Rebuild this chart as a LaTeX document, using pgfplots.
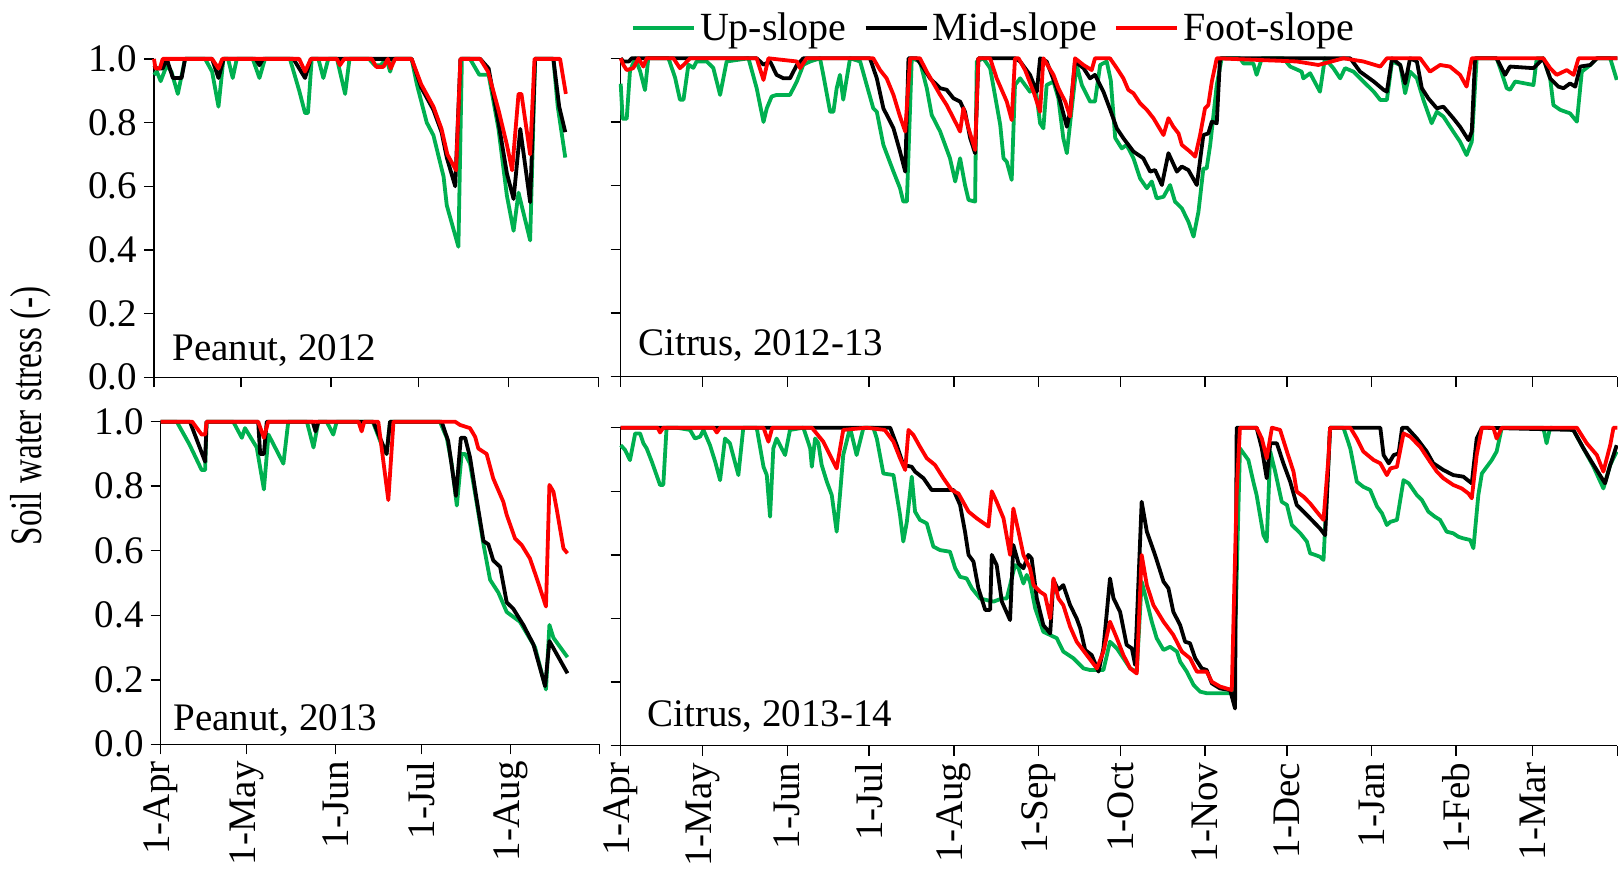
\documentclass[border=0pt]{standalone}
\usepackage{pgfplots}
\pgfplotsset{compat=1.18}
\usepackage{fontspec}
\setmainfont{Liberation Serif}
\definecolor{cgreen}{RGB}{0,176,80}
\definecolor{cred}{RGB}{255,0,0}
\newcommand{\fs}{\fontsize{19.5}{23}\selectfont}
\newcommand{\fl}{\fontsize{20}{24}\selectfont}
\pgfplotsset{
  panel/.style={
    scale only axis,
    axis lines*=left,
    anchor=south west,
    ymin=0, ymax=1,
    ytick={0,0.2,0.4,0.6,0.8,1},
    tick align=outside,
    major tick length=5pt,
    axis line style={line width=0.75pt},
    tick style={line width=0.75pt, black},
    tick label style={font=\fs},
    yticklabel style={/pgf/number format/.cd, fixed, fixed zerofill, precision=1, assume math mode=true},
    xticklabel style={rotate=90, anchor=east},
    clip=false,
    no markers,
    every axis plot/.append style={line width=1.9pt, line join=round},
  },
  peanut/.style={xmin=0, xmax=153, xtick={0,30,61,91,122,153}},
  citrus/.style={xmin=0, xmax=365, xtick={0,30,61,91,122,153,183,214,244,275,306,334,365}},
}
\begin{document}
\begin{tikzpicture}
\useasboundingbox (0,0) rectangle (809pt,436pt);
\node[rotate=90, xscale=0.85, yscale=1.15, font=\fs] at (15.5pt,228pt) {Soil water stress (-)};
% ---------------- Peanut 2012
\begin{axis}[panel, peanut, at={(77pt,247.35pt)}, width=222.2pt, height=159.2pt, xticklabels={}]
\addplot[cgreen] table {
0 0.95
1 0.96
2.3 0.93
4.4 0.98
6 0.96
8.2 0.89
10.7 1
17.6 1
20 0.96
22.2 0.85
23.9 1
25.5 1
27.1 0.94
28.5 1
34 1
36.3 0.94
38.2 1
46.8 1
50 0.90
52 0.83
53 0.83
54.3 1
56.6 1
58.3 0.94
60 1
63 1
65.8 0.89
67.3 1
74 1
76 0.98
78 0.98
80 1
81.3 0.96
82.5 1
88.7 1
90.5 0.92
93.9 0.80
96.2 0.76
99.7 0.63
100.8 0.54
104.8 0.41
106 1
108.8 1
112 0.95
115.2 0.95
118.6 0.78
121.5 0.57
123.8 0.46
125.5 0.58
129.5 0.43
131.2 1
137.5 1
139 0.85
141.6 0.69
};
\addplot[black] table {
0 0.98
1 0.97
3 0.97
4.4 1
6.5 0.94
9.5 0.94
10.7 1
20 1
22.2 0.94
24 1
35 1
36.3 0.98
37.5 1
48 1
52 0.94
54 1
88.7 1
92 0.91
96.2 0.84
99 0.77
100.8 0.69
103.7 0.60
105.5 1
112.3 1
115.2 0.97
118.6 0.80
121.5 0.64
123.8 0.56
126.1 0.78
129.5 0.55
131.2 1
137.5 1
139.5 0.85
141.6 0.77
};
\addplot[cred] table {
0 1
0.5 0.97
2 0.97
3 1
20 1
22.2 0.97
23.5 1
50 1
52 0.96
54 1
63 1
64 0.98
65.5 1
75 1
76.5 0.975
79 0.975
80.5 1
81.5 0.97
83 1
88.7 1
92 0.92
96.2 0.85
99 0.78
101 0.70
104 0.65
105.5 1
112.3 1
115 0.96
118.6 0.84
121.5 0.73
123.3 0.65
125.5 0.89
126.5 0.89
129.5 0.70
131 1
139.8 1
141.8 0.89
};
\node[anchor=base west, inner sep=0pt, font=\fs] at (axis cs:6.2,0.054) {Peanut, 2012};
\end{axis}
% ---------------- Citrus 2012-13
\begin{axis}[panel, citrus, at={(310.35pt,247.65pt)}, width=498.3pt, height=159.2pt, xticklabels={}, yticklabels={},
  legend columns=3,
  legend style={draw=none, fill=none, font=\fl, at={(0.010,1.095)}, anchor=west, inner sep=0pt,
    /tikz/every even column/.append style={column sep=6.5pt}},
  legend image code/.code={\draw[#1] (0pt,0pt) -- (30.6pt,0pt);}]
\addplot[cgreen] table {
0 0.92
0.7 0.81
2.2 0.81
3.4 0.96
5.3 1
7.1 0.96
8.9 0.90
10.1 1
17.5 1
19.9 0.94
21.7 0.87
23 0.87
24.8 0.98
26.6 0.97
27.8 0.99
31.5 0.99
33.9 0.97
36.4 0.885
38.8 0.99
46.8 1
49.8 0.906
52.3 0.80
53.5 0.843
55.3 0.88
57.1 0.885
62 0.885
64.5 0.927
66.9 0.98
69.4 0.99
73 1
74.2 0.948
76.7 0.832
77.9 0.832
79.1 0.906
80.3 0.948
81.5 0.87
84 1
87.7 0.99
90.1 0.916
92.5 0.843
93.8 0.832
96.2 0.728
99.9 0.644
102.3 0.592
103.5 0.55
104.8 0.55
106.6 1
109.6 0.99
112.1 0.906
113.9 0.822
117 0.77
120.6 0.686
122.5 0.613
124.3 0.686
126.1 0.602
127.4 0.555
129.8 0.55
130.4 0.99
132.8 1
135.3 0.969
139 0.791
140.2 0.686
141.4 0.675
143.2 0.618
144.4 0.916
146.3 0.937
148.1 0.916
149.9 0.895
151.8 0.916
153.6 0.796
154.8 0.78
156 0.916
158.5 0.927
160.3 0.874
162.1 0.749
163.4 0.702
165.2 0.843
167 0.979
168.9 0.916
171.9 0.864
173.7 0.864
175.6 0.979
178 0.99
179.5 0.93
181.1 0.75
183.5 0.717
185.3 0.728
187.8 0.686
190.2 0.623
192.7 0.592
194.5 0.613
196.3 0.56
198.8 0.565
201.2 0.602
203 0.55
205.5 0.529
207.9 0.487
209.8 0.44
211.6 0.518
213.4 0.654
214.6 0.654
215.9 0.728
218.3 0.916
220.1 1
226.8 1
228.1 0.984
231.7 0.984
232.9 0.948
234.8 1
242.7 1
245.2 0.974
249.4 0.958
250 0.937
252.5 0.953
256.1 0.895
257.9 1
261 0.969
263.5 0.937
265.3 0.969
268.4 0.958
272 0.927
275.8 0.895
278.2 0.869
280.6 0.869
282.5 0.99
285.5 0.979
287.3 0.89
289.1 0.958
291.6 0.937
294 0.869
297 0.796
298.9 0.832
301.3 0.817
304.9 0.77
307.4 0.738
309.8 0.696
311.7 0.738
313.5 1
320.8 1
322.1 0.969
324.5 0.906
325.7 0.901
327.6 0.927
334.3 0.916
335.5 1
337.9 1
340.4 0.937
341.6 0.853
344.1 0.838
347.7 0.827
350.2 0.801
352 0.958
355.1 0.979
357.5 1
362.4 1
364.8 0.932
};
\addlegendentry{Up-slope}
\addplot[black] table {
0 1
1 0.99
3 0.99
4 1
49.8 1
52.3 0.98
54.7 0.99
57.1 0.948
59.6 0.937
62 0.937
64.5 0.979
66.9 1
91.3 1
93.8 0.937
96.2 0.843
99.9 0.78
102.3 0.707
104.2 0.644
105.4 1
108.4 1
110.9 0.969
113.3 0.937
117 0.906
119.4 0.901
121.9 0.874
124.3 0.864
126.1 0.832
128 0.749
129.8 0.702
131 1
144.4 1
146.3 0.99
149.9 0.948
152.4 0.895
153.6 1
156 0.99
159.7 0.906
163.4 0.785
164.6 0.832
166.4 0.99
169.5 0.969
171.9 0.937
173.7 0.948
176.8 0.895
179.2 0.84
181.7 0.78
184.1 0.749
187.8 0.707
191.4 0.686
193.9 0.644
195.7 0.649
198.2 0.602
200.6 0.702
203.7 0.644
205.5 0.66
207.9 0.649
211 0.602
213.4 0.759
215.2 0.764
216.5 0.801
218.3 0.796
219.5 1
267.2 1
270.8 0.958
275.8 0.927
279.4 0.901
280.6 0.895
282.5 1
285.5 0.979
287.3 0.921
289.1 1
291.6 0.99
293.4 0.906
295.8 0.874
298.9 0.843
301.3 0.848
304.9 0.812
307.4 0.785
310.5 0.743
311.7 0.77
312.9 1
320.8 1
323.9 0.948
325.7 0.974
334.3 0.969
335.5 0.979
337.9 1
340.4 0.937
343.4 0.911
345.3 0.906
347.7 0.921
349.6 0.911
351.4 0.974
355.1 0.979
357.5 1
365 1
};
\addlegendentry{Mid-slope}
\addplot[cred] table {
0 1
1 0.979
2.2 0.963
4.6 0.969
6.5 1
8.3 0.974
9.5 1
19.3 1
21.7 0.969
23 0.979
25.4 1
49.8 1
52.3 0.932
54.1 1
64.5 0.99
65.7 0.969
68.1 1
92.5 1
95 0.963
97.4 0.937
99.9 0.885
102.3 0.817
104.2 0.77
106 1
109.6 1
112.1 0.958
117 0.885
119.4 0.853
123.1 0.791
124.3 0.77
125.5 0.843
127.4 0.78
129.8 0.712
131 1
135.3 1
137.7 0.937
141.4 0.864
143.2 0.806
144.4 1
145.7 1
148.1 0.963
151.2 0.895
153.6 0.832
154.8 1
158.5 0.948
160.3 0.906
162.8 0.864
164.6 0.817
166.4 1
169.5 0.979
172.5 0.963
173.7 1
179.2 1
181.7 0.969
184.1 0.937
185.9 0.901
187.8 0.89
190.2 0.859
192.7 0.838
195.1 0.812
198.8 0.759
200.6 0.812
202.4 0.785
204.3 0.764
205.5 0.728
208.5 0.707
210.4 0.691
212.2 0.759
214 0.843
215.2 0.853
216.5 0.927
218.3 1
247.6 0.99
255.5 0.979
264.7 1
272 0.99
278.2 0.974
280.6 1
292.8 1
296.4 0.958
300.1 0.979
303.7 0.974
307.4 0.948
309.8 0.911
311.7 1
337.9 1
340.4 0.969
342.8 0.948
346.5 0.963
349 0.948
350.8 1
365 1
};
\addlegendentry{Foot-slope}
\node[anchor=base west, inner sep=0pt, font=\fs] at (axis cs:6.3,0.068) {Citrus, 2012-13};
\end{axis}
% ---------------- Peanut 2013
\begin{axis}[panel, peanut, at={(80.35pt,63.85pt)}, width=219.3pt, height=161.3pt,
  xticklabels={1-Apr,1-May,1-Jun,1-Jul,1-Aug,{}}]
\addplot[cgreen] table {
0 1
5.6 1
10 0.93
14.3 0.85
15.5 0.85
16 1
25.3 1
28.3 0.95
29.4 0.98
33.5 0.92
36 0.79
37.6 0.96
42.8 0.87
44.5 1
51 1
53.3 0.92
55 1
57.9 1
60.2 0.96
61.4 1
74 1
77 0.93
78.8 0.90
80 1
97.4 1
99.8 0.95
101.5 0.87
103.3 0.74
105 0.90
106.2 0.90
107.9 0.87
110.2 0.75
112.6 0.62
114.9 0.51
117.8 0.47
120.7 0.41
125.3 0.38
130.6 0.30
134.4 0.17
135.6 0.37
137 0.33
141.9 0.27
};
\addplot[black] table {
0 1
10.2 1
15.5 0.876
16 1
34 1
34.7 0.90
36 0.90
37 1
53 1
54 0.97
55 1
74.2 1
78.8 0.90
80 1
98 1
100.3 0.94
103 0.77
104.7 0.95
106.2 0.95
107.9 0.89
110.2 0.76
112.6 0.63
114.3 0.62
116 0.57
118.4 0.55
120.7 0.44
123 0.42
126.5 0.37
130 0.31
134.1 0.18
135.6 0.32
141.9 0.22
};
\addplot[cred] table {
0 1
11 1
14.3 0.96
15.5 0.96
16 1
34 1
36 0.95
37.5 1
69 1
70.1 0.97
71 1
75.9 1
79.4 0.757
81.2 1
102.7 1
104.4 0.99
107.9 0.98
109.7 0.953
110.8 0.917
113.7 0.90
116 0.824
119.5 0.752
120.7 0.711
123.6 0.638
125.9 0.618
128.8 0.576
131.2 0.514
134.4 0.427
135.6 0.804
137 0.783
138.1 0.731
140.5 0.607
141.9 0.592
};
\node[anchor=base west, inner sep=0pt, font=\fs] at (axis cs:4.3,0.044) {Peanut, 2013};
\end{axis}
% ---------------- Citrus 2013-14
\begin{axis}[panel, citrus, at={(310.35pt,63.15pt)}, width=498.3pt, height=159pt, yticklabels={},
  xticklabels={1-Apr,1-May,1-Jun,1-Jul,1-Aug,1-Sep,1-Oct,1-Nov,1-Dec,1-Jan,1-Feb,1-Mar,{}}]
\addplot[cgreen] table {
0 0.945
1.6 0.93
3.4 0.898
5.3 0.982
7.1 0.982
8.3 0.951
9.5 0.935
11.4 0.893
14.4 0.82
15.6 0.82
16.8 1
20.5 1
25.4 0.993
27.2 0.966
29.1 0.972
30.3 0.993
32.7 0.945
34.6 0.893
36.4 0.835
38.2 0.966
40 0.951
43.1 0.851
44.9 1
49.8 1
52.3 0.877
53.5 0.851
54.7 0.72
55.9 0.935
57.1 0.966
60.2 0.914
62 0.993
66.9 1
69.4 0.935
70 0.877
71.2 0.966
72.4 0.951
73.6 0.883
75.5 0.83
77.3 0.788
79.1 0.673
80.3 0.788
81.5 0.914
84 1
86.4 0.914
88.9 1
92.5 1
93.8 0.966
96.2 0.856
99.9 0.851
102.3 0.725
103.5 0.642
104.8 0.704
106.6 0.846
107.8 0.736
109.6 0.71
112.1 0.699
114.5 0.626
117 0.615
120.6 0.61
122.5 0.558
124.3 0.531
126.7 0.526
128.6 0.495
131.6 0.463
136.5 0.453
139.6 0.463
141.4 0.463
144.4 0.568
145.7 0.558
147.5 0.51
148.7 0.537
149.9 0.516
151.8 0.432
154.8 0.358
157.3 0.348
159.7 0.338
162.1 0.296
165.8 0.275
169.5 0.243
171.9 0.238
176.8 0.238
179.2 0.327
181.7 0.306
184.1 0.275
186.6 0.243
189 0.233
190.8 0.516
192.7 0.453
194.5 0.39
196.3 0.338
198.8 0.301
201.2 0.311
203.7 0.296
204.9 0.264
207.3 0.233
209.8 0.191
212.2 0.17
214.6 0.165
224.5 0.165
226.8 0.935
229.9 0.898
231.7 0.83
232.9 0.788
235.4 0.662
236.6 0.642
237.9 0.925
239.7 0.862
242.1 0.767
244 0.757
245.8 0.694
248.9 0.668
251.3 0.642
252.5 0.605
254.3 0.6
256.1 0.594
257.4 0.584
259.8 1
264.7 1
267.2 0.935
269.6 0.83
272 0.814
274.5 0.804
277 0.752
278.8 0.731
280.6 0.694
281.9 0.704
284.3 0.71
286.7 0.835
288.6 0.825
291.6 0.788
293.4 0.773
295.8 0.736
298.2 0.72
300.1 0.71
302.5 0.673
304.9 0.668
306.8 0.657
308.6 0.652
311.1 0.647
312.3 0.621
314.1 0.788
315.4 0.856
317.2 0.877
319 0.898
320.8 0.925
322.7 1
337.9 1
339.1 0.951
340.4 1
348.9 0.993
352.6 0.935
356.3 0.877
359.9 0.809
362.4 0.883
364.8 0.925
};
\addplot[black] table {
0 1
98.7 1
101.1 0.945
103.5 0.883
106.6 0.877
107.8 0.862
110.9 0.841
113.9 0.804
121.9 0.804
124.3 0.757
126.1 0.673
127.4 0.6
129.2 0.579
131 0.495
133.5 0.427
135.3 0.427
135.9 0.6
137.7 0.568
139.6 0.453
142.6 0.395
143.8 0.631
145.7 0.573
147.5 0.558
149.3 0.6
150.5 0.589
152.4 0.463
154.8 0.379
157.3 0.353
158.5 0.521
160.3 0.49
162.1 0.505
164.6 0.442
167 0.4
168.3 0.369
170.1 0.301
172.5 0.285
175 0.233
176.8 0.306
179.2 0.526
180.5 0.463
182.9 0.421
185.3 0.317
187.2 0.306
188.4 0.254
190.8 0.767
192.7 0.673
195.7 0.6
198.8 0.516
200.6 0.495
202.4 0.421
204.9 0.379
206.7 0.327
208.5 0.322
210.4 0.275
212.8 0.243
214.6 0.238
216.5 0.196
219.5 0.18
223.2 0.175
225 0.117
225.6 1
232.9 1
234.8 0.935
236.6 0.841
237.9 0.951
240.3 0.951
242.7 0.888
245.2 0.83
247.6 0.757
250.1 0.736
252.5 0.715
256.1 0.683
258 0.662
259.8 1
278.2 1
279.4 0.914
281.3 0.888
283.1 0.914
284.9 0.919
286.2 1
288 1
291.6 0.966
295.2 0.925
297.6 0.888
301.3 0.867
304.9 0.851
308.6 0.846
311.7 0.825
313.5 0.966
315.4 1
348.9 0.993
352.6 0.935
356.3 0.883
360.5 0.825
362.4 0.883
364.8 0.945
};
\addplot[cred] table {
0 1
13.5 1
14.4 0.985
15.6 1
34 1
35.2 0.985
36.4 1
52.3 1
54.1 0.956
55.5 1
70 1
74.2 0.956
79.1 0.872
81.5 0.993
90.1 1
96.7 0.993
99.9 0.956
102.3 0.904
104.2 0.867
105.4 0.993
107.2 0.977
109.6 0.94
112.1 0.904
115.1 0.883
118.2 0.841
121.2 0.804
123.7 0.793
127.4 0.736
130.4 0.715
134.7 0.689
135.9 0.8
137.7 0.767
140.2 0.715
142.6 0.6
143.8 0.746
145.7 0.673
147.5 0.6
149.9 0.558
151.2 0.505
153.6 0.484
155.4 0.474
157.3 0.4
158.5 0.526
160.3 0.463
162.1 0.442
164.6 0.374
167 0.327
170.7 0.285
174.4 0.243
176.8 0.296
179.2 0.39
181.7 0.338
184.1 0.285
186.6 0.243
189 0.227
190.8 0.6
192.7 0.505
195.1 0.442
198.8 0.39
202.4 0.348
205.5 0.296
208.5 0.275
211 0.233
214.6 0.233
216.5 0.201
219.5 0.186
223.8 0.175
225.6 0.8
226.8 1
232.9 1
234.8 0.966
236.6 0.904
238.5 1
241.5 0.993
244 0.925
246.4 0.862
247.6 0.799
250.1 0.783
252.5 0.762
254.9 0.736
257.4 0.71
259.2 0.904
259.8 1
267.2 1
269.6 0.966
272 0.925
275.8 0.898
278.2 0.888
280.6 0.851
281.9 0.872
284.3 0.877
286.7 0.982
289.1 0.972
292.8 0.94
296.4 0.893
298.9 0.862
301.3 0.841
304.9 0.82
308 0.809
310.5 0.793
311.7 0.778
313.5 0.914
315.4 1
319.6 1
320.8 0.966
322.7 1
350.2 1
353.8 0.951
357.5 0.914
359.9 0.862
362.4 0.945
363.6 1
365 1
};
\node[anchor=base west, inner sep=0pt, font=\fs] at (axis cs:9.6,0.059) {Citrus, 2013-14};
\end{axis}
\end{tikzpicture}
\end{document}
